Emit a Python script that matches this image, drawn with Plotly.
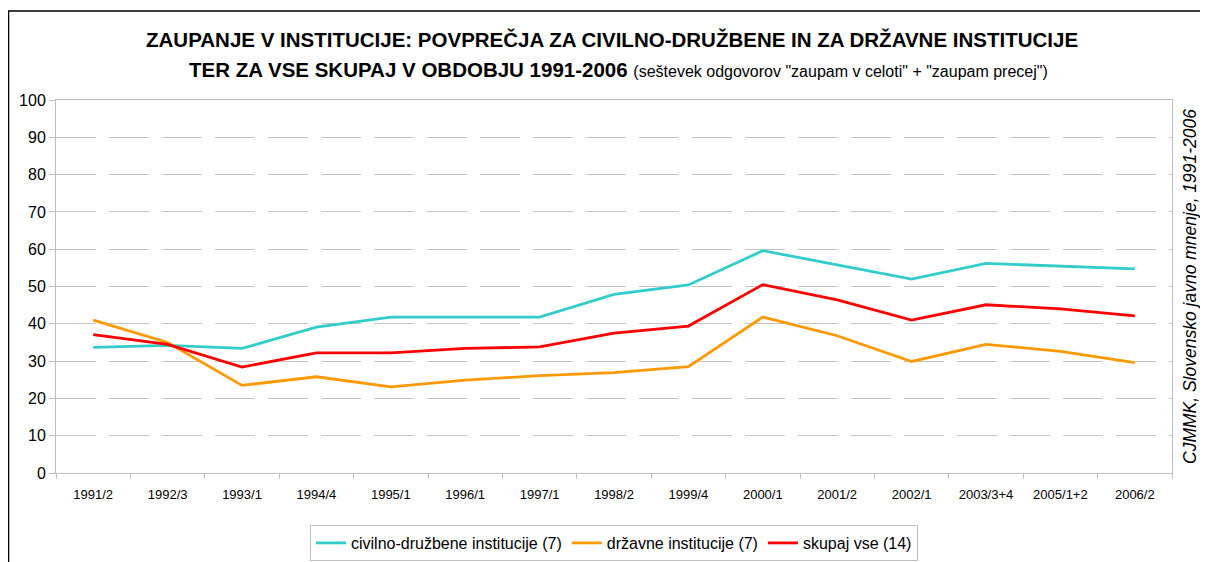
import plotly.graph_objects as go

categories = ["1991/2", "1992/3", "1993/1", "1994/4", "1995/1", "1996/1", "1997/1", "1998/2",
              "1999/4", "2000/1", "2001/2", "2002/1", "2003/3+4", "2005/1+2", "2006/2"]
civilno = [33.7, 34.2, 33.4, 39.1, 41.8, 41.8, 41.8, 47.9, 50.4, 59.6, 55.8, 52.0, 56.2, 55.5, 54.7]
drzavne = [41.0, 35.0, 23.5, 25.8, 23.1, 24.9, 26.1, 26.9, 28.5, 41.8, 36.8, 29.9, 34.5, 32.6, 29.6]
skupaj = [37.1, 34.5, 28.4, 32.2, 32.2, 33.4, 33.8, 37.5, 39.4, 50.5, 46.4, 41.0, 45.1, 44.0, 42.1]

series = [
    ("civilno-družbene institucije (7)", civilno, "#33CCCC"),
    ("državne institucije (7)", drzavne, "#FF9900"),
    ("skupaj vse (14)", skupaj, "#FF0000"),
]

FONT = "Liberation Sans, Arial, sans-serif"

# figure geometry (page has 8px body margin)
W, H = 1200, 554
L, R, T, B = 48, 1164, 92, 465
PW, PH = R - L, B - T

def px(x):
    return (x - L) / PW

def py(y):
    return (B - y) / PH

fig = go.Figure()
for name, vals, col in series:
    fig.add_trace(go.Scatter(x=categories, y=vals, name=name, mode="lines",
                             line=dict(color=col, width=2.8)))

fig.update_layout(
    width=W, height=H,
    margin=dict(l=L, r=W - R, t=T, b=H - B, autoexpand=False),
    paper_bgcolor="white", plot_bgcolor="white",
    font=dict(family=FONT, color="black", size=14),
    showlegend=True,
    legend=dict(orientation="h", x=0.5, xanchor="center",
                yref="container", y=1 - 535 / H, yanchor="middle",
                bordercolor="#BFBFBF", borderwidth=1, font=dict(size=16, family=FONT),
                itemwidth=30, tracegroupgap=0, itemclick=False),
    xaxis=dict(type="category", range=[-0.5, len(categories) - 0.5], showgrid=False,
               showline=True, linecolor="#BFBFBF",
               linewidth=1, mirror=True, ticks="outside", tickson="boundaries",
               ticklen=5, tickcolor="#BFBFBF", tickfont=dict(size=13, family=FONT),
               ticklabelstandoff=9, fixedrange=True),
    yaxis=dict(range=[0, 100], dtick=10, showgrid=True, gridcolor="#C4C4C4",
               griddash="40px,13px", gridwidth=1, showline=True, linecolor="#BFBFBF",
               linewidth=1, mirror=True, ticks="outside", ticklen=6, tickcolor="#BFBFBF",
               tickfont=dict(size=16, family=FONT), zeroline=False, fixedrange=True),
)

# outer chart border (black)
fig.add_shape(type="rect", xref="paper", yref="paper",
              x0=px(0.5), x1=px(W + 20), y0=py(H + 20), y1=py(3),
              line=dict(color="black", width=1.5), fillcolor="rgba(0,0,0,0)", layer="below")

fig.add_annotation(xref="paper", yref="paper", x=px(604), y=py(32),
                   xanchor="center", yanchor="middle", showarrow=False,
                   text="<b>ZAUPANJE V INSTITUCIJE: POVPREČJA ZA CIVILNO-DRUŽBENE IN ZA DRŽAVNE INSTITUCIJE</b>",
                   font=dict(size=20.5, family=FONT))
fig.add_annotation(xref="paper", yref="paper", x=px(610), y=py(62),
                   xanchor="center", yanchor="middle", showarrow=False,
                   text="<b>TER ZA VSE SKUPAJ V OBDOBJU 1991-2006</b> <span style='font-size:16px'>(seštevek odgovorov \"zaupam v celoti\" + \"zaupam precej\")</span>",
                   font=dict(size=20.5, family=FONT))
fig.add_annotation(xref="paper", yref="paper", x=px(1182), y=py(279),
                   xanchor="center", yanchor="middle", showarrow=False, textangle=-90,
                   text="<i>CJMMK, Slovensko javno mnenje, 1991-2006</i>",
                   font=dict(size=17.5, family=FONT))

fig.write_html("out.html")
